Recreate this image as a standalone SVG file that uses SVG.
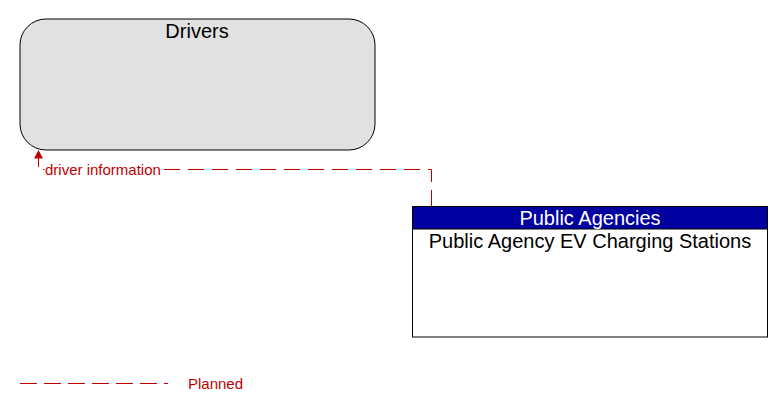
<svg xmlns="http://www.w3.org/2000/svg" width="783" height="412" viewBox="0 0 783 412">
<style>
text{font-family:"Liberation Sans",Arial,sans-serif}
.flow{fill:none;stroke:#c00000;stroke-width:1;stroke-dasharray:16,8}
.lbl{fill:#c00000;font-size:15px}
.title{font-size:20px}
</style>
<rect width="783" height="412" fill="#fff"/>
<g id="drivers">
<rect x="20" y="19" width="355" height="131" rx="26" ry="26" fill="#e1e1e1" stroke="#000" stroke-width="1"/>
<text class="title" x="197" y="37.5" text-anchor="middle" fill="#000">Drivers</text>
</g>
<g id="public-agency-ev">
<rect x="412.5" y="206.5" width="355" height="130.5" fill="#fff" stroke="#000" stroke-width="1"/>
<rect x="412.5" y="206.5" width="355" height="22.5" fill="#0000a0" stroke="#000" stroke-width="1"/>
<text class="title" x="590" y="225" text-anchor="middle" fill="#fff">Public Agencies</text>
<text class="title" x="590" y="248" text-anchor="middle" fill="#000">Public Agency EV Charging Stations</text>
</g>
<g id="connectors">
<path class="flow" d="M431.5,206 L431.5,169.5 L162,169.5"/>
<path d="M38.5,167 L38.5,151 M43,169.5 L44.5,169.5" fill="none" stroke="#c00000" stroke-width="1"/>
<path d="M38.5,150 L34,158.5 L43,158.5 Z" fill="#c00000"/>
<text class="lbl" x="45" y="174.5">driver information</text>
</g>
<g id="legend">
<path d="M20,383.5 L168,383.5" fill="none" stroke="#c00000" stroke-width="1" stroke-dasharray="17,7"/>
<text x="188" y="388.5" font-size="15" fill="#c00000">Planned</text>
</g>
</svg>
